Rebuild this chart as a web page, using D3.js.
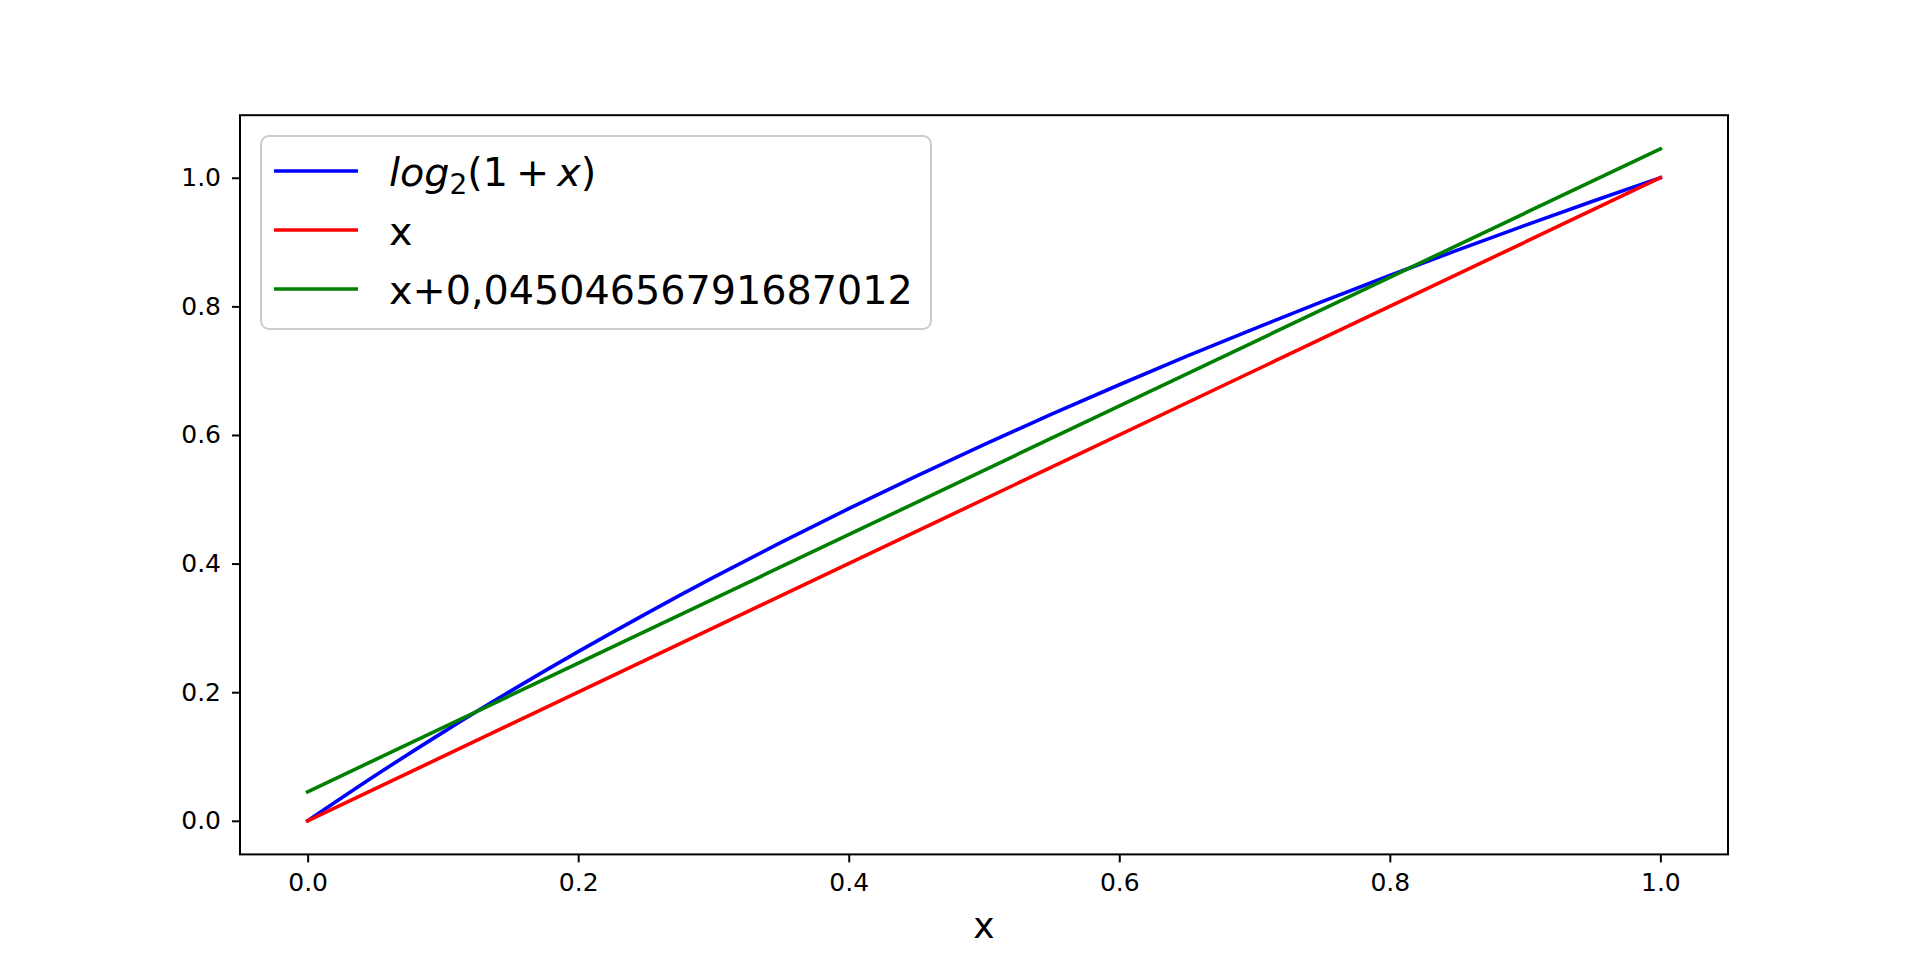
<!DOCTYPE html>
<html>
<head>
<meta charset="utf-8">
<script src="https://cdn.jsdelivr.net/npm/d3@7"></script>
<style>
  html, body { margin: 0; padding: 0; background: #fff; }
  svg { display: block; }
  text { font-family: "DejaVu Sans", sans-serif; fill: #000; }
</style>
</head>
<body>
<svg id="chart" width="1920" height="960"></svg>
<script>
// x positions shared by the curves
const xValues = [0, 0.05, 0.1, 0.15, 0.2, 0.25, 0.3, 0.35, 0.4, 0.45, 0.5,
                 0.55, 0.6, 0.65, 0.7, 0.75, 0.8, 0.85, 0.9, 0.95, 1.0];

// log2(1+x)
const logValues = [0, 0.0704, 0.1375, 0.2016, 0.263, 0.3219, 0.3785, 0.433, 0.4854, 0.5361, 0.585,
                   0.6323, 0.6781, 0.7225, 0.7655, 0.8074, 0.848, 0.8875, 0.926, 0.9635, 1.0];

// straight lines only need their end points
const lineX = [0, 1.0];
const redValues = [0, 1.0];
const greenValues = [0.04504656791687012, 1.04504656791687012];

const tickValues = [0, 0.2, 0.4, 0.6, 0.8, 1.0];
const seriesNames = ["log", "x", "x+0,04504656791687012"];
const seriesColors = ["blue", "red", "green"];

const width = 1920;
const height = 960;
const margin = { top: 115.2, right: 192, bottom: 105.6, left: 240 };

const svg = d3.select("#chart");

const xScale = d3.scaleLinear()
  .domain([-0.05, 1.05])
  .range([margin.left, width - margin.right]);

const yScale = d3.scaleLinear()
  .domain([-0.05225, 1.09729])
  .range([height - margin.bottom, margin.top]);

// axes
const xAxis = d3.axisBottom(xScale)
  .tickValues(tickValues)
  .tickFormat(d3.format(".1f"))
  .tickSizeInner(8)
  .tickSizeOuter(0)
  .tickPadding(11);

const yAxis = d3.axisLeft(yScale)
  .tickValues(tickValues)
  .tickFormat(d3.format(".1f"))
  .tickSizeInner(8)
  .tickSizeOuter(0)
  .tickPadding(11);

const gx = svg.append("g")
  .attr("transform", `translate(0, ${height - margin.bottom})`)
  .call(xAxis);

const gy = svg.append("g")
  .attr("transform", `translate(${margin.left}, 0)`)
  .call(yAxis);

[gx, gy].forEach((g) => {
  g.select(".domain").remove();
  g.selectAll(".tick line").attr("stroke", "#000").attr("stroke-width", 2);
  g.selectAll(".tick text")
    .attr("font-family", "DejaVu Sans")
    .attr("font-size", 25)
    .attr("fill", "#000");
});

// curves
const lineGen = d3.line()
  .x((d) => xScale(d[0]))
  .y((d) => yScale(d[1]))
  .curve(d3.curveMonotoneX);

const series = [
  d3.zip(xValues, logValues),
  d3.zip(lineX, redValues),
  d3.zip(lineX, greenValues)
];

svg.append("g")
  .selectAll("path")
  .data(series)
  .enter()
  .append("path")
  .attr("d", lineGen)
  .attr("fill", "none")
  .attr("stroke", (d, i) => seriesColors[i])
  .attr("stroke-width", 3.6)
  .attr("stroke-linecap", "square");

// frame
svg.append("rect")
  .attr("x", margin.left)
  .attr("y", margin.top)
  .attr("width", width - margin.left - margin.right)
  .attr("height", height - margin.top - margin.bottom)
  .attr("fill", "none")
  .attr("stroke", "#000")
  .attr("stroke-width", 2);

// x axis label
svg.append("text")
  .attr("x", (margin.left + width - margin.right) / 2)
  .attr("y", 938)
  .attr("text-anchor", "middle")
  .attr("font-size", 36)
  .text("x");

// legend
const legend = svg.append("g");
legend.append("rect")
  .attr("x", 261)
  .attr("y", 136)
  .attr("width", 670)
  .attr("height", 193)
  .attr("rx", 8)
  .attr("fill", "#fff")
  .attr("fill-opacity", 0.8)
  .attr("stroke", "#cccccc")
  .attr("stroke-width", 2);

const rowY = [171, 230, 289];

legend.selectAll(".legend-line")
  .data(seriesNames)
  .enter()
  .append("line")
  .attr("class", "legend-line")
  .attr("x1", 274)
  .attr("x2", 358)
  .attr("y1", (d, i) => rowY[i])
  .attr("y2", (d, i) => rowY[i])
  .attr("stroke", (d, i) => seriesColors[i])
  .attr("stroke-width", 3.6);

legend.selectAll(".legend-label")
  .data(seriesNames)
  .enter()
  .append("text")
  .attr("class", "legend-label")
  .attr("x", 389)
  .attr("y", (d, i) => rowY[i] + 15)
  .attr("font-size", 39.7)
  .each(function (d, i) {
    const el = d3.select(this);
    if (i === 0) {
      // mathtext style: log_2(1 + x)
      el.append("tspan").attr("font-style", "italic").text("log");
      el.append("tspan").attr("font-size", 28).attr("dy", 8).text("2");
      el.append("tspan").attr("dy", -8).text("(1\u2009+\u2009");
      el.append("tspan").attr("font-style", "italic").text("x");
      el.append("tspan").text(")");
    } else {
      el.text(d);
    }
  });
</script>
</body>
</html>
